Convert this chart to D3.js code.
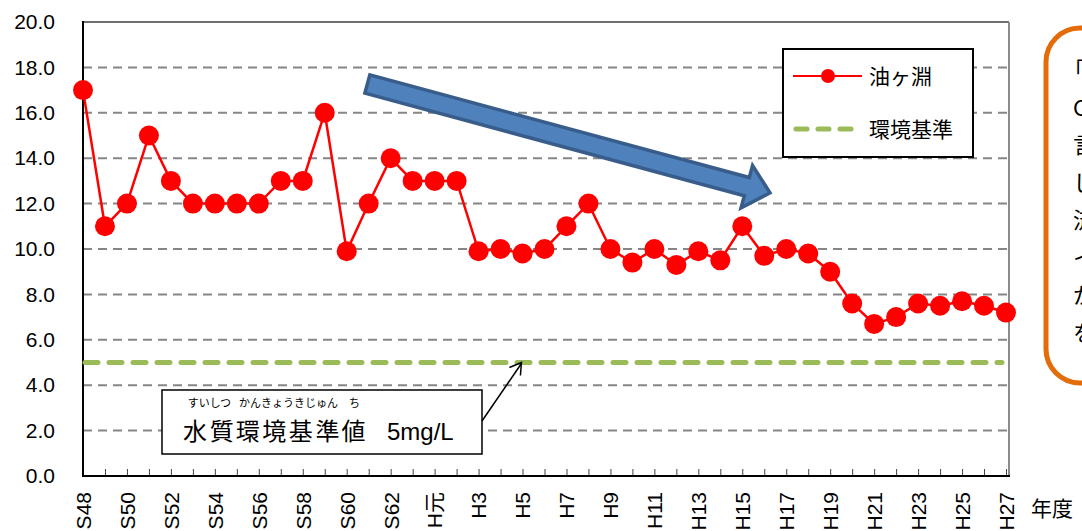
<!DOCTYPE html>
<html><head><meta charset="utf-8">
<script src="https://cdn.jsdelivr.net/npm/d3@7"></script>
<style>
html,body{margin:0;padding:0;background:#fff;overflow:hidden;}
svg{display:block;}
text{font-family:"Liberation Sans","Noto Sans CJK JP",sans-serif;fill:#000;}
.jp{font-family:"Noto Sans CJK JP","Liberation Sans",sans-serif;}
</style></head>
<body>
<script>
// ---- data ----
const categories = ["S48","S49","S50","S51","S52","S53","S54","S55","S56","S57","S58","S59","S60","S61","S62","S63",
  "H元","H2","H3","H4","H5","H6","H7","H8","H9","H10","H11","H12","H13","H14","H15","H16","H17","H18","H19","H20",
  "H21","H22","H23","H24","H25","H26","H27"];
const values = [17.0,11.0,12.0,15.0,13.0,12.0,12.0,12.0,12.0,13.0,13.0,16.0,9.9,12.0,14.0,13.0,13.0,13.0,
  9.9,10.0,9.8,10.0,11.0,12.0,10.0,9.4,10.0,9.3,9.9,9.5,11.0,9.7,10.0,9.8,9.0,7.6,6.7,7.0,7.6,7.5,7.7,7.5,7.2];
const standardValue = 5;
const yTicks = [0,2,4,6,8,10,12,14,16,18,20];
const seriesName = "油ヶ淵";
const standardName = "環境基準";
const xUnit = "年度";
const rubyGroups = [["すいしつ","水質"],["かんきょうきじゅん","環境基準"],["ち","値"]];
const noteValue = "5mg/L";
const sideLines = ["「油ヶ淵」の水質","COD（化学的酸素要求量）","言われています。","しかし、","流域の","イ","かつて","を"];

// ---- layout ----
const W = 1082, H = 531;
const L = 83, R = 1008, T = 22, B = 476;
const svg = d3.select("body").append("svg").attr("width", W).attr("height", H);

const x = d3.scalePoint().domain(d3.range(categories.length)).range([L, 1006]);
// continuous index scale for annotations positioned between categories
const xi = d3.scaleLinear().domain([0, categories.length - 1]).range([L, 1006]);
const y = d3.scaleLinear().domain([0, 20]).range([B, T]);

// gridlines
svg.append("g").selectAll("line").data(yTicks.filter(v => v > 0 && v < 20)).join("line")
  .attr("x1", L).attr("x2", R).attr("y1", d => y(d)).attr("y2", d => y(d))
  .attr("stroke", "#868686").attr("stroke-width", 2).attr("stroke-dasharray", "9,6");

// plot border top/right
svg.append("line").attr("x1", L).attr("x2", R + 1).attr("y1", y(20)).attr("y2", y(20)).attr("stroke", "#6e6e6e").attr("stroke-width", 2);
svg.append("line").attr("x1", R + 1).attr("x2", R + 1).attr("y1", y(20)).attr("y2", B).attr("stroke", "#8c8c8c").attr("stroke-width", 2);

// y axis
const yAxis = d3.axisLeft(y).tickValues(yTicks).tickFormat(d3.format(".1f")).tickSize(0).tickPadding(0);
const gy = svg.append("g").attr("transform", `translate(${L},0)`).call(yAxis);
gy.select(".domain").remove();
gy.selectAll("text").attr("x", -28).attr("font-size", 21).attr("font-family", "Liberation Sans").attr("fill", "#000");
svg.append("line").attr("x1", L).attr("x2", L).attr("y1", y(20) - 1).attr("y2", B + 1).attr("stroke", "#000").attr("stroke-width", 2);

// x axis
const xAxis = d3.axisBottom(x).tickSize(-7).tickFormat(i => i % 2 === 0 ? categories[i] : "").tickPadding(0);
const gx = svg.append("g").attr("transform", `translate(0,${B})`).call(xAxis);
gx.select(".domain").remove();
gx.selectAll(".tick line").attr("stroke", "#444").attr("stroke-width", 1);
gx.selectAll(".tick").filter(i => i === 0).select("line").remove();
gx.selectAll("text").attr("font-size", 21).attr("fill", "#000").attr("font-family", "Liberation Sans, Noto Sans CJK JP")
  .attr("text-anchor", "end").attr("dy", "0.35em").attr("y", 0)
  .attr("transform", "translate(0,16) rotate(-90)");
svg.append("line").attr("x1", L - 1).attr("x2", R + 2).attr("y1", B).attr("y2", B).attr("stroke", "#000").attr("stroke-width", 2);
svg.append("text").attr("class", "jp").attr("x", 1031).attr("y", 516).attr("font-size", 21).text(xUnit);

// standard line
svg.append("line").attr("x1", x(0)).attr("x2", 1000).attr("y1", y(standardValue)).attr("y2", y(standardValue))
  .attr("stroke", "#9bbb59").attr("stroke-width", 5).attr("stroke-dasharray", "13,11").attr("stroke-linecap", "round")
  .attr("transform", "translate(2,0)");

// series
const line = d3.line().x((d, i) => x(i)).y(d => y(d));
svg.append("path").datum(values).attr("d", line).attr("fill", "none").attr("stroke", "#ff0000").attr("stroke-width", 2.5);
svg.append("g").selectAll("circle").data(values).join("circle")
  .attr("cx", (d, i) => x(i)).attr("cy", d => y(d)).attr("r", 10).attr("fill", "#ff0000");

// big blue arrow (trend)
(function(){
  const sx = xi(12.94), sy = y(17.27), tx = xi(31.26), ty = y(12.47);
  const dx = tx - sx, dy = ty - sy, len = Math.hypot(dx, dy);
  const ux = dx / len, uy = dy / len, nx = -uy, ny = ux;
  const hw = 9.5, headL = 24, headW = 22;
  const bx = tx - ux * headL, by = ty - uy * headL;
  const pts = [
    [sx + nx * hw, sy + ny * hw], [bx + nx * hw, by + ny * hw], [bx + nx * headW, by + ny * headW],
    [tx, ty], [bx - nx * headW, by - ny * headW], [bx - nx * hw, by - ny * hw], [sx - nx * hw, sy - ny * hw]
  ];
  svg.append("polygon").attr("points", pts.map(p => p.join(",")).join(" "))
    .attr("fill", "#4f81bd").attr("stroke", "#385d8a").attr("stroke-width", 3.5).attr("stroke-linejoin", "miter");
})();

// legend
const lg = svg.append("g");
lg.append("rect").attr("x", 783).attr("y", 49).attr("width", 190).attr("height", 108)
  .attr("fill", "#fff").attr("stroke", "#000").attr("stroke-width", 2);
lg.append("line").attr("x1", 793).attr("x2", 862).attr("y1", 76).attr("y2", 76).attr("stroke", "#ff0000").attr("stroke-width", 2);
lg.append("circle").attr("cx", 828).attr("cy", 76).attr("r", 7).attr("fill", "#ff0000");
lg.append("text").attr("class", "jp").attr("x", 869).attr("y", 84).attr("font-size", 21).text(seriesName);
lg.append("line").attr("x1", 796).attr("x2", 855).attr("y1", 129).attr("y2", 129)
  .attr("stroke", "#9bbb59").attr("stroke-width", 5).attr("stroke-dasharray", "11,11").attr("stroke-linecap", "round");
lg.append("text").attr("class", "jp").attr("x", 869).attr("y", 137).attr("font-size", 21).text(standardName);

// annotation box
const ag = svg.append("g");
ag.append("rect").attr("x", 162).attr("y", 390).attr("width", 320).attr("height", 64)
  .attr("fill", "#fff").attr("stroke", "#000").attr("stroke-width", 1.5);
const mainFs = 24, charW = 26.4;
let cx0 = 183;
rubyGroups.forEach(([ruby, base]) => {
  const w = base.length * charW;
  ag.append("text").attr("class", "jp").attr("x", cx0 + w / 2).attr("y", 407).attr("font-size", 11)
    .attr("text-anchor", "middle").text(ruby);
  ag.append("text").attr("class", "jp").attr("x", cx0).attr("y", 440).attr("font-size", mainFs)
    .attr("textLength", w - 2).attr("lengthAdjust", "spacing").text(base);
  cx0 += w;
});
ag.append("text").attr("x", 387).attr("y", 440).attr("font-size", 24).attr("font-family", "Liberation Sans").text(noteValue);
// pointer arrow to standard line at H5
const px = xi(19.95), py = y(5.0);
ag.append("line").attr("x1", 482).attr("y1", 421).attr("x2", px).attr("y2", py + 1)
  .attr("stroke", "#000").attr("stroke-width", 1.5);
ag.append("path").attr("d", `M${px - 12},${py + 5} L${px},${py} L${px - 1},${py + 13}`)
  .attr("fill", "none").attr("stroke", "#000").attr("stroke-width", 1.5);

// side (clipped) explanation box
const sg = svg.append("g");
sg.append("rect").attr("x", 1046).attr("y", 28).attr("width", 120).attr("height", 355).attr("rx", 34).attr("ry", 34)
  .attr("fill", "#fff").attr("stroke", "#e36c09").attr("stroke-width", 5);
sg.selectAll("text.side").data(sideLines).join("text").attr("class", "jp side")
  .attr("x", (d, i) => i === 0 ? 1063 : 1073).attr("y", (d, i) => 78 + i * 37.5).attr("font-size", 22).text(d => d);
</script>
</body></html>
